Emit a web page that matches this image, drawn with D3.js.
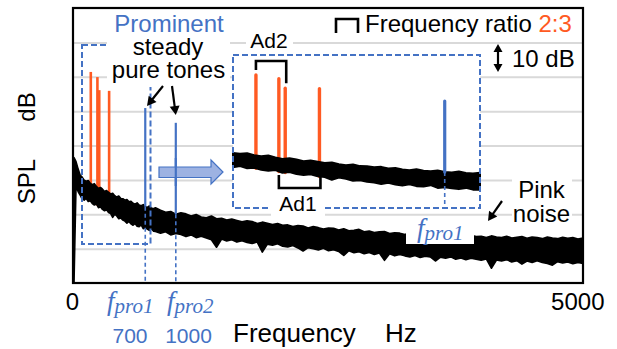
<!DOCTYPE html>
<html>
<head>
<meta charset="utf-8">
<script src="https://cdn.jsdelivr.net/npm/d3@7"></script>
<style>
  body { margin: 0; background: #fff; }
  svg { display: block; }
  text { font-family: "Liberation Sans", Arial, sans-serif; }
</style>
</head>
<body>
<svg id="chart" width="617" height="349"></svg>
<script>
// ---- data ----------------------------------------------------------
const freqTicks = [0, 5000];
const gridLevels = [10, 20, 30, 40, 50, 60, 70];

// Pink-noise spectrum envelope (dB): fine bins up to 800 Hz, coarse bins above
const lowBandHz = d3.range(0, 801, 20);
const highBandHz = d3.range(850, 5001, 50);
const noiseHz = lowBandHz.concat(highBandHz);
const noiseUpper = [
  36.5, 35.3, 33.2, 31.4, 30.8, 29.9, 29.6, 29.8, 29.0, 28.6,
  28.9, 28.1, 27.5, 27.8, 27.3, 26.6, 26.9, 26.4, 25.9, 26.1,
  25.4, 25.0, 25.3, 24.6, 24.5, 24.1, 24.3, 23.6, 23.8, 23.2,
  22.9, 23.3, 22.7, 22.5, 22.8, 22.2, 22.0, 22.4, 21.8, 21.6,
  21.9,
  21.2, 20.6, 20.8, 20.0, 20.4, 20.1, 19.5, 19.9, 19.2, 19.0,
  19.5, 18.7, 18.8, 18.3, 18.6, 18.2, 17.8, 18.1, 17.9, 17.3,
  17.7, 17.4, 17.0, 17.3, 16.8, 16.9, 16.4, 16.7, 16.6, 16.0,
  16.4, 16.1, 15.7, 16.0, 15.9, 15.4, 15.8, 15.2, 15.3, 15.6,
  14.9, 15.1, 14.7, 14.9, 15.0, 14.4, 14.6, 14.5, 14.1, 14.6,
  14.3, 13.9, 14.4, 14.0, 13.8, 14.2, 13.9, 13.6, 14.0, 13.8,
  13.4, 13.9, 13.5, 13.6, 13.2, 13.7, 13.4, 13.2, 13.6, 13.1,
  13.3, 13.5, 13.0, 13.4, 13.2, 12.9, 13.4, 13.1, 12.9, 13.3,
  13.0, 13.2, 12.8, 13.1
];
const noiseLower = [
  0.0, 28.2, 26.6, 25.6, 24.4, 24.1, 24.6, 23.7, 23.9, 23.1,
  22.7, 23.0, 21.9, 22.2, 21.4, 21.0, 21.3, 20.5, 20.2, 19.1,
  20.0, 19.5, 18.7, 18.9, 18.3, 18.0, 17.4, 17.9, 17.2, 16.8,
  17.3, 16.5, 16.4, 16.9, 15.8, 16.1, 15.7, 15.3, 15.8, 15.1,
  15.0,
  14.5, 14.9, 14.0, 14.4, 14.1, 13.5, 14.0, 13.2, 13.6, 13.1,
  12.6, 10.4, 12.8, 12.2, 12.6, 11.9, 12.3, 11.8, 11.5, 11.9,
  9.0, 11.3, 11.0, 11.4, 10.7, 10.5, 10.9, 10.2, 9.3, 10.3,
  10.0, 9.6, 10.1, 9.4, 9.7, 9.2, 8.0, 9.4, 8.8, 9.1,
  8.5, 8.9, 8.3, 8.7, 6.6, 8.5, 7.9, 8.3, 7.9, 7.6,
  8.0, 7.4, 7.8, 7.6, 6.4, 7.5, 7.2, 7.6, 6.9, 7.3,
  6.8, 7.2, 6.9, 6.6, 7.0, 4.3, 6.7, 6.4, 6.8, 6.1,
  6.5, 5.5, 6.4, 6.0, 6.5, 6.0, 5.7, 5.2, 6.2, 5.8,
  6.1, 5.6, 6.0, 5.7
];

// Additional tones at frequency ratio 2:3 (Hz, dB)
const harmonicHz = [165, 230, 248, 345];
const harmonicDb = [61.4, 59.9, 56.1, 55.9];

// Prominent steady pure tones
const toneHz = [700, 1000];
const toneDb = [50.9, 46.6];
const toneNames = ["pro1", "pro2"];
const toneValueLabels = ["700", "1000"];

// Frequency span shown in the magnified view
const insetHz = [100, 800];

// ---- setup ---------------------------------------------------------
const BLUE = "#4472c4", ORANGE = "#ff5a22", GRID = "#d9d9d9";
const svg = d3.select("#chart");

const x = d3.scaleLinear().domain([0, 5000]).range([74, 583]);
const y = d3.scaleLinear().domain([0, 80]).range([283, 8]);

const noise = noiseHz.map((f, i) => ({ f, hi: noiseUpper[i], lo: noiseLower[i] }));
const noiseHiAt = d3.scaleLinear().domain(noiseHz).range(noiseUpper);
const noiseLoAt = d3.scaleLinear().domain(noiseHz).range(noiseLower);

function arrow(g, x1, y1, x2, y2, L = 9, w = 5, sw = 2.2) {
  const a = Math.atan2(y2 - y1, x2 - x1);
  const bx = x2 - L * Math.cos(a), by = y2 - L * Math.sin(a);
  const px = -Math.sin(a), py = Math.cos(a);
  g.append("line").attr("x1", x1).attr("y1", y1).attr("x2", bx + Math.cos(a)).attr("y2", by + Math.sin(a))
    .attr("stroke", "#000").attr("stroke-width", sw);
  g.append("polygon")
    .attr("points", [[x2, y2], [bx + w * px, by + w * py], [bx - w * px, by - w * py]].map(p => p.join(",")).join(" "))
    .attr("fill", "#000");
}

// ---- gridlines -----------------------------------------------------
const grid = svg.append("g").attr("transform", `translate(${x(0)},0)`)
  .call(d3.axisLeft(y).tickValues(gridLevels).tickSize(-(x(5000) - x(0))).tickFormat(""));
grid.select(".domain").remove();
grid.selectAll("line").attr("stroke", GRID).attr("stroke-width", 2);

// ---- main spectrum -------------------------------------------------
svg.append("g").selectAll("line").data(harmonicHz).join("line")
  .attr("x1", d => x(d)).attr("x2", d => x(d))
  .attr("y1", (d, i) => y(harmonicDb[i]))
  .attr("y2", d => y(noiseLoAt(d)))
  .attr("stroke", ORANGE).attr("stroke-width", 2.6);

const mainArea = d3.area().x(d => x(d.f)).y0(d => y(d.lo)).y1(d => y(d.hi));
svg.append("path").datum(noise).attr("d", mainArea)
  .attr("fill", "#000").attr("stroke", "#000").attr("stroke-width", 1.6).attr("stroke-linejoin", "round");

// tone lines: solid above the noise, dashed down to the axis
const tones = svg.append("g");
toneHz.forEach((f, i) => {
  tones.append("line").attr("x1", x(f)).attr("x2", x(f))
    .attr("y1", y(toneDb[i])).attr("y2", y(noiseHiAt(f)))
    .attr("stroke", BLUE).attr("stroke-width", 2.2);
  tones.append("line").attr("x1", x(f)).attr("x2", x(f))
    .attr("y1", y(noiseHiAt(f))).attr("y2", y(0))
    .attr("stroke", BLUE).attr("stroke-width", 1.6).attr("stroke-dasharray", "4,3");
});

// dashed outline around the low-frequency region
svg.append("rect").attr("x", 82).attr("y", 45).attr("width", 68.5).attr("height", 199)
  .attr("fill", "none").attr("stroke", BLUE).attr("stroke-width", 2).attr("stroke-dasharray", "6,3");

// callout: prominent steady pure tones
svg.append("rect").attr("x", 107).attr("y", 10).attr("width", 123).attr("height", 77).attr("fill", "#fff");
const callout = svg.append("g").attr("font-size", 24).attr("text-anchor", "middle");
callout.append("text").attr("x", 169).attr("y", 32).attr("fill", BLUE).text("Prominent");
callout.append("text").attr("x", 168).attr("y", 55).text("steady");
callout.append("text").attr("x", 168.5).attr("y", 78).text("pure tones");
const arrows = svg.append("g");
arrow(arrows, 163, 86, 147, 106);
arrow(arrows, 172, 86, x(toneHz[1]), 115);

// block arrow into the magnified view
svg.append("polygon")
  .attr("points", "159,167 211,167 211,160 223,172 211,184 211,177.5 159,177.5")
  .attr("fill", "#9db2e2").attr("stroke", BLUE).attr("stroke-width", 1.2);
// tone 2 stays visible across the block arrow
svg.append("line").attr("x1", x(toneHz[1])).attr("x2", x(toneHz[1]))
  .attr("y1", 158).attr("y2", 186).attr("stroke", BLUE).attr("stroke-width", 2.2);

// ---- magnified view ------------------------------------------------
const xIn = d3.scaleLinear().domain(insetHz).range([233, 480]);
const yIn = d3.scaleLinear().domain([0, 80]).range([227, 29]);

svg.append("rect").attr("x", 233).attr("y", 55).attr("width", 247).attr("height", 153).attr("fill", "#fff");

const inset = svg.append("g");
inset.selectAll("line.h").data(harmonicHz).join("line").attr("class", "h")
  .attr("x1", d => xIn(d)).attr("x2", d => xIn(d))
  .attr("y1", (d, i) => yIn(harmonicDb[i]))
  .attr("y2", d => yIn(noiseLoAt(d)))
  .attr("stroke", ORANGE).attr("stroke-width", 3.4).attr("stroke-linecap", "round");

const insetNoise = noise.filter(d => d.f >= insetHz[0] && d.f <= insetHz[1]);
const insetArea = d3.area().x(d => xIn(d.f)).y0(d => yIn(d.lo)).y1(d => yIn(d.hi));
inset.append("path").datum(insetNoise).attr("d", insetArea)
  .attr("fill", "#000").attr("stroke", "#000").attr("stroke-width", 2).attr("stroke-linejoin", "round");

inset.append("line").attr("x1", xIn(toneHz[0])).attr("x2", xIn(toneHz[0]))
  .attr("y1", yIn(toneDb[0])).attr("y2", yIn(noiseHiAt(toneHz[0])))
  .attr("stroke", BLUE).attr("stroke-width", 3.2).attr("stroke-linecap", "round");
inset.append("line").attr("x1", xIn(toneHz[0])).attr("x2", xIn(toneHz[0]))
  .attr("y1", yIn(noiseHiAt(toneHz[0]))).attr("y2", 208)
  .attr("stroke", BLUE).attr("stroke-width", 1.6).attr("stroke-dasharray", "4,3");

svg.append("rect").attr("x", 233).attr("y", 55).attr("width", 247).attr("height", 153)
  .attr("fill", "none").attr("stroke", BLUE).attr("stroke-width", 2).attr("stroke-dasharray", "6,3");

// Ad2 / Ad1 brackets
const br = svg.append("g").attr("fill", "none").attr("stroke", "#000").attr("stroke-width", 2.6);
br.append("path").attr("d",
  `M${xIn(harmonicHz[0])},${yIn(harmonicDb[0]) - 5}V61H${xIn(harmonicHz[2]) + 1}V${yIn(harmonicDb[2]) - 5}`);
br.append("path").attr("d",
  `M${xIn(harmonicHz[1])},175V188H${xIn(harmonicHz[3]) + 1}V175`);

svg.append("rect").attr("x", 246).attr("y", 30).attr("width", 47).attr("height", 21).attr("fill", "#fff");
svg.append("text").attr("x", 269).attr("y", 48).attr("text-anchor", "middle").attr("font-size", 21).text("Ad2");
svg.append("rect").attr("x", 271).attr("y", 195).attr("width", 54).attr("height", 25).attr("fill", "#fff");
svg.append("text").attr("x", 298).attr("y", 211).attr("text-anchor", "middle").attr("font-size", 21).text("Ad1");

// italic f with subscript
function fLabel(g, x0, yb, name) {
  const t = g.append("text").attr("x", x0).attr("y", yb).attr("fill", BLUE)
    .style("font-family", "'Liberation Serif', 'DejaVu Serif', serif").style("font-style", "italic");
  t.append("tspan").attr("font-size", 27).text("f");
  t.append("tspan").attr("font-size", 21).attr("dy", 3).text(name);
}

svg.append("rect").attr("x", 406).attr("y", 217).attr("width", 68).attr("height", 27).attr("fill", "#fff");
fLabel(svg, 417, 237, toneNames[0]);

// ---- frame and axes ------------------------------------------------
svg.append("rect").attr("x", x(0) - 1).attr("y", y(80)).attr("width", x(5000) - x(0) + 1).attr("height", y(0) - y(80))
  .attr("fill", "none").attr("stroke", "#000").attr("stroke-width", 2.2);

const xAxis = svg.append("g").attr("transform", `translate(0,${y(0)})`)
  .call(d3.axisBottom(x).tickValues(freqTicks).tickFormat(d3.format("d")).tickSize(0).tickPadding(10));
xAxis.select(".domain").remove();
xAxis.selectAll("text").attr("font-size", 24).attr("fill", "#000")
  .style("font-family", "'Liberation Sans', Arial, sans-serif");
xAxis.selectAll(".tick text").filter(d => d === 0).attr("dx", -2);
xAxis.selectAll(".tick text").filter(d => d === 5000).attr("text-anchor", "end").attr("x", 21);

// tone labels under the axis
const toneLabelX = [107, 167];
const toneValueX = [130, 188.5];
toneHz.forEach((f, i) => {
  fLabel(svg, toneLabelX[i], 310, toneNames[i]);
  svg.append("text").attr("x", toneValueX[i]).attr("y", 343).attr("text-anchor", "middle")
    .attr("font-size", 21).attr("fill", BLUE).text(toneValueLabels[i]);
});

svg.append("text").attr("x", 233).attr("y", 342).attr("font-size", 26).text("Frequency");
svg.append("text").attr("x", 385).attr("y", 342).attr("font-size", 26).text("Hz");

svg.append("text").attr("transform", "translate(35,181.5) rotate(-90)").attr("text-anchor", "middle")
  .attr("font-size", 24).text("SPL");
svg.append("text").attr("transform", "translate(35,107) rotate(-90)").attr("text-anchor", "middle")
  .attr("font-size", 24).text("dB");

// ---- legend and notes ----------------------------------------------
svg.append("path").attr("d", "M336,33V19H358V33").attr("fill", "none").attr("stroke", "#000").attr("stroke-width", 2.6);
const leg = svg.append("text").attr("x", 365).attr("y", 32).attr("font-size", 24);
leg.append("tspan").text("Frequency ratio ");
leg.append("tspan").attr("fill", ORANGE).text("2:3");

const scaleBar = svg.append("g");
arrow(scaleBar, 498, 58, 498, 44, 8, 4.5, 2.2);
arrow(scaleBar, 498, 58, 498, 72, 8, 4.5, 2.2);
svg.append("text").attr("x", 512).attr("y", 67).attr("font-size", 24).text("10 dB");

svg.append("rect").attr("x", 512).attr("y", 176).attr("width", 60).attr("height", 50).attr("fill", "#fff");
svg.append("text").attr("x", 541.5).attr("y", 198).attr("text-anchor", "middle").attr("font-size", 24).text("Pink");
svg.append("text").attr("x", 541.5).attr("y", 222).attr("text-anchor", "middle").attr("font-size", 24).text("noise");
arrow(svg.append("g"), 502, 201, 488, 221);
</script>
</body>
</html>
